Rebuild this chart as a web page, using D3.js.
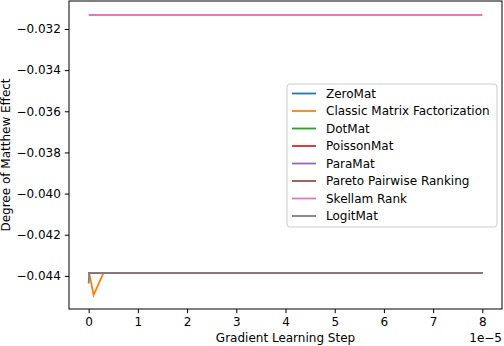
<!DOCTYPE html>
<html>
<head>
<meta charset="utf-8">
<script src="https://cdn.jsdelivr.net/npm/d3@7"></script>
<style>
  body { margin: 0; background: #fff; }
  text { font-family: "DejaVu Sans", sans-serif; }
</style>
</head>
<body>
<script>
var width = 504;
var height = 346;

// learning steps (x) and the metric per method
var steps = [0, 1e-7, 1e-6, 3e-6, 1e-5, 2e-5, 3e-5, 4e-5, 5e-5, 6e-5, 7e-5, 8e-5];
var zeroMat    = [-0.04385, -0.04385, -0.04385, -0.04385, -0.04385, -0.04385, -0.04385, -0.04385, -0.04385, -0.04385, -0.04385, -0.04385];
var classicMF  = [-0.04385, -0.04385, -0.04493, -0.04385, -0.04385, -0.04385, -0.04385, -0.04385, -0.04385, -0.04385, -0.04385, -0.04385];
var dotMat     = [-0.04385, -0.04385, -0.04385, -0.04385, -0.04385, -0.04385, -0.04385, -0.04385, -0.04385, -0.04385, -0.04385, -0.04385];
var poissonMat = [-0.04385, -0.04385, -0.04385, -0.04385, -0.04385, -0.04385, -0.04385, -0.04385, -0.04385, -0.04385, -0.04385, -0.04385];
var paraMat    = [-0.04385, -0.04385, -0.04385, -0.04385, -0.04385, -0.04385, -0.04385, -0.04385, -0.04385, -0.04385, -0.04385, -0.04385];
var pareto     = [-0.04385, -0.04385, -0.04385, -0.04385, -0.04385, -0.04385, -0.04385, -0.04385, -0.04385, -0.04385, -0.04385, -0.04385];
var skellam    = [-0.03132, -0.03132, -0.03132, -0.03132, -0.03132, -0.03132, -0.03132, -0.03132, -0.03132, -0.03132, -0.03132, -0.03132];
var logitMat   = [-0.04437, -0.04385, -0.04385, -0.04385, -0.04385, -0.04385, -0.04385, -0.04385, -0.04385, -0.04385, -0.04385, -0.04385];

var names = ["ZeroMat", "Classic Matrix Factorization", "DotMat", "PoissonMat", "ParaMat",
             "Pareto Pairwise Ranking", "Skellam Rank", "LogitMat"];
var seriesValues = [zeroMat, classicMF, dotMat, poissonMat, paraMat, pareto, skellam, logitMat];
var colors = ["#1f77b4", "#ff7f0e", "#2ca02c", "#d62728", "#9467bd", "#8c564b", "#e377c2", "#7f7f7f"];

var xTicks = [0, 1e-5, 2e-5, 3e-5, 4e-5, 5e-5, 6e-5, 7e-5, 8e-5];
var yTicks = [-0.044, -0.042, -0.040, -0.038, -0.036, -0.034, -0.032];

var plotLeft = 69, plotRight = 502, plotTop = 1, plotBottom = 309;

var svg = d3.select("body").append("svg")
            .attr("width", width)
            .attr("height", height);

// matplotlib-like 5% margins
var allY = d3.merge(seriesValues);
var yMin = d3.min(allY), yMax = d3.max(allY);
var yPad = (yMax - yMin) * 0.05;
var xPad = (d3.max(steps) - d3.min(steps)) * 0.05;

var x = d3.scaleLinear()
          .domain([d3.min(steps) - xPad, d3.max(steps) + xPad])
          .range([plotLeft, plotRight]);
var y = d3.scaleLinear()
          .domain([yMin - yPad, yMax + yPad])
          .range([plotBottom, plotTop]);

var line = d3.line()
             .x(function(d){ return x(d[0]); })
             .y(function(d){ return y(d[1]); });

svg.append("g")
   .selectAll("path")
   .data(seriesValues)
   .enter()
   .append("path")
   .attr("fill", "none")
   .attr("stroke", function(d, i){ return colors[i]; })
   .attr("stroke-width", 1.8)
   .attr("d", function(d){ return line(steps.map(function(s, j){ return [s, d[j]]; })); });

// axes
var xAxis = svg.append("g")
               .attr("transform", "translate(0," + plotBottom + ")")
               .call(d3.axisBottom(x).tickValues(xTicks).tickSizeOuter(0)
                       .tickSize(4.2).tickPadding(4)
                       .tickFormat(function(d){ return d3.format("d")(Math.round(d * 1e5)); }));
var yAxis = svg.append("g")
               .attr("transform", "translate(" + plotLeft + ",0)")
               .call(d3.axisLeft(y).tickValues(yTicks).tickSizeOuter(0)
                       .tickSize(4.2).tickPadding(4)
                       .tickFormat(function(d){ return d3.format(".3f")(d).replace("-", "\u2212"); }));

[xAxis, yAxis].forEach(function(a){
  a.select(".domain").remove();
  a.selectAll("line").attr("stroke", "#000").attr("stroke-width", 1);
  a.selectAll("text").attr("font-size", "12px").attr("fill", "#000")
   .attr("font-family", "DejaVu Sans, sans-serif");
});

svg.append("rect")
   .attr("x", plotLeft).attr("y", plotTop)
   .attr("width", plotRight - plotLeft).attr("height", plotBottom - plotTop)
   .attr("fill", "none")
   .attr("stroke", "#000")
   .attr("stroke-width", 1);

// labels
svg.append("text")
   .attr("x", (plotLeft + plotRight) / 2)
   .attr("y", 342)
   .attr("text-anchor", "middle")
   .attr("font-size", "12px")
   .text("Gradient Learning Step");

svg.append("text")
   .attr("x", plotRight)
   .attr("y", 342)
   .attr("text-anchor", "end")
   .attr("font-size", "12px")
   .text("1e\u22125");

svg.append("text")
   .attr("transform", "translate(10," + (plotTop + plotBottom) / 2 + ") rotate(-90)")
   .attr("text-anchor", "middle")
   .attr("font-size", "12px")
   .text("Degree of Matthew Effect");

// legend
var legend = svg.append("g").attr("transform", "translate(287,84)");
legend.append("rect")
      .attr("width", 210).attr("height", 143)
      .attr("rx", 3)
      .attr("fill", "#fff").attr("fill-opacity", 0.8)
      .attr("stroke", "#cccccc").attr("stroke-width", 1);

var items = legend.selectAll("g.item")
                  .data(names)
                  .enter()
                  .append("g")
                  .attr("class", "item")
                  .attr("transform", function(d, i){ return "translate(0," + (9.5 + i * 17.5) + ")"; });
items.append("line")
     .attr("x1", 5).attr("x2", 29)
     .attr("stroke", function(d, i){ return colors[i]; })
     .attr("stroke-width", 1.8);
items.append("text")
     .attr("x", 39)
     .attr("dy", "0.35em")
     .attr("font-size", "12px")
     .text(function(d){ return d; });
</script>
</body>
</html>
